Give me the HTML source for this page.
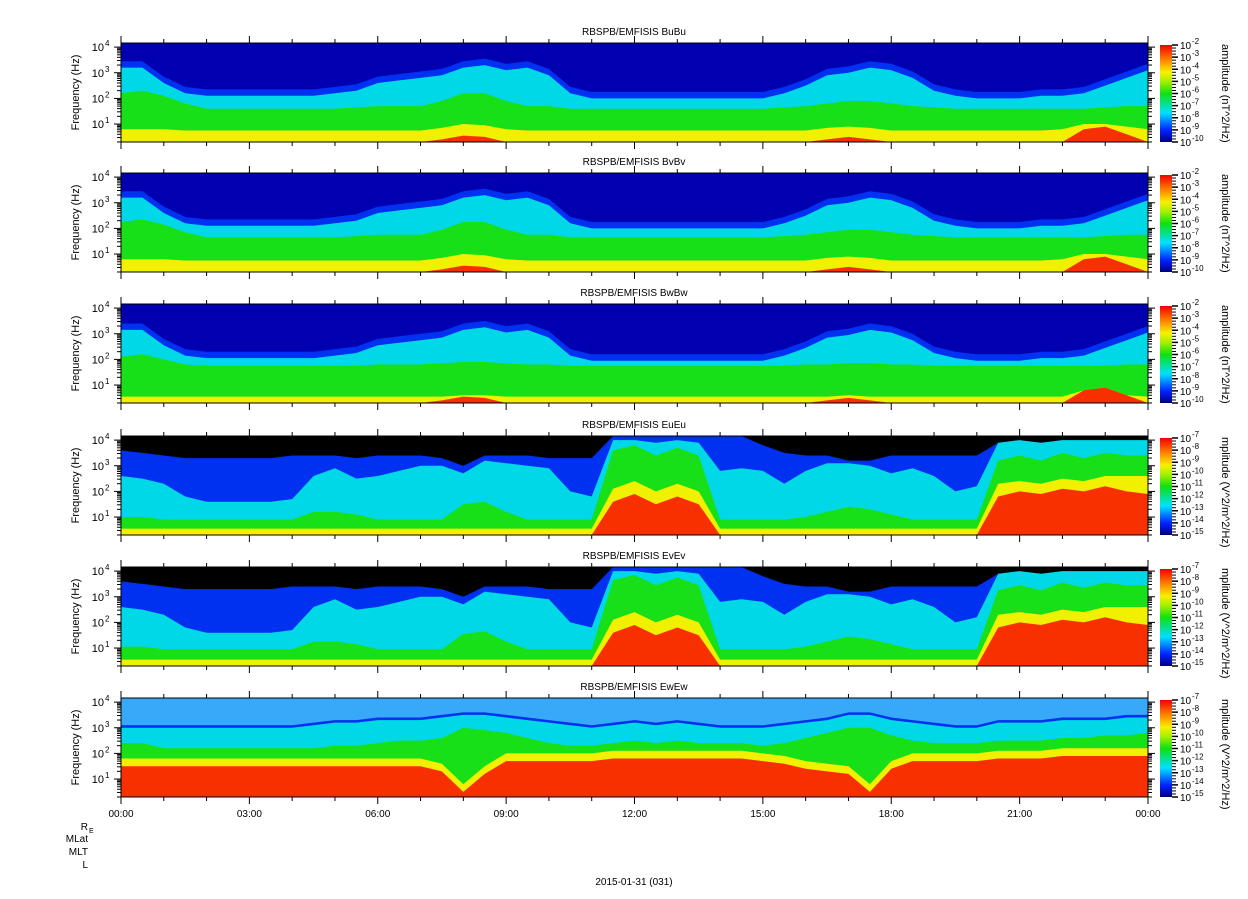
<!DOCTYPE html>
<html><head><meta charset="utf-8">
<style>
html,body{margin:0;padding:0;background:#fff;}
svg{display:block;font-family:"Liberation Sans","DejaVu Sans",sans-serif;}
</style></head>
<body>
<svg id="chart" width="1248" height="899" viewBox="0 0 1248 899" xmlns="http://www.w3.org/2000/svg">
<defs>
<linearGradient id="cbar" x1="0" y1="1" x2="0" y2="0">
<stop offset="0" stop-color="#000080"/><stop offset="0.12" stop-color="#0020ff"/>
<stop offset="0.3" stop-color="#00e0ff"/><stop offset="0.5" stop-color="#10e010"/>
<stop offset="0.62" stop-color="#a0f000"/><stop offset="0.72" stop-color="#f8f000"/>
<stop offset="0.85" stop-color="#ff8000"/><stop offset="1" stop-color="#f00000"/>
</linearGradient>
</defs>
</svg>
<script>
// hours sampled every 0.5 h (49 samples); values are log10(frequency in Hz) of layer tops
const hours = Array.from({length:49},(_,i)=>i*0.5);
const buRedLog   =[0.3,0.3,0.3,0.3,0.3,0.3,0.3,0.3,0.3,0.3,0.3,0.3,0.3,0.3,0.3,0.4,0.55,0.5,0.3,0.3,0.3,0.3,0.3,0.3,0.3,0.3,0.3,0.3,0.3,0.3,0.3,0.3,0.3,0.4,0.5,0.4,0.3,0.3,0.3,0.3,0.3,0.3,0.3,0.3,0.3,0.8,0.9,0.6,0.3];
const buYellowLog=[0.8,0.8,0.8,0.75,0.75,0.75,0.75,0.75,0.75,0.75,0.75,0.75,0.75,0.75,0.75,0.85,1.0,0.95,0.8,0.75,0.75,0.75,0.75,0.75,0.75,0.75,0.75,0.75,0.75,0.75,0.75,0.75,0.75,0.85,0.9,0.85,0.75,0.75,0.75,0.75,0.75,0.75,0.75,0.75,0.8,1.0,1.0,0.9,0.8];
const buGreenLog =[2.2,2.3,2.1,1.8,1.6,1.6,1.6,1.6,1.6,1.6,1.6,1.65,1.7,1.7,1.7,1.9,2.2,2.2,1.9,1.7,1.7,1.6,1.6,1.6,1.6,1.6,1.6,1.6,1.6,1.6,1.6,1.65,1.7,1.8,1.9,1.9,1.8,1.7,1.65,1.6,1.6,1.6,1.6,1.6,1.6,1.6,1.65,1.7,1.7];
const buCyanLog  =[3.2,3.2,2.6,2.2,2.1,2.1,2.1,2.1,2.1,2.1,2.2,2.3,2.6,2.7,2.8,2.9,3.2,3.3,3.1,3.2,2.9,2.2,2.0,2.0,2.0,2.0,2.0,2.0,2.0,2.0,2.0,2.2,2.5,2.9,3.0,3.2,3.1,2.8,2.3,2.1,2.0,2.0,2.0,2.1,2.1,2.2,2.5,2.8,3.1];
const bwGreenLog =[2.1,2.2,2.0,1.8,1.75,1.75,1.75,1.75,1.75,1.75,1.75,1.75,1.8,1.8,1.8,1.85,1.9,1.9,1.85,1.8,1.8,1.75,1.75,1.75,1.75,1.75,1.75,1.75,1.75,1.75,1.75,1.75,1.8,1.8,1.85,1.85,1.8,1.8,1.75,1.75,1.75,1.75,1.75,1.75,1.75,1.75,1.75,1.8,1.8];
const bwYellowLog=[0.55,0.55,0.55,0.55,0.55,0.55,0.55,0.55,0.55,0.55,0.55,0.55,0.55,0.55,0.55,0.55,0.6,0.6,0.55,0.55,0.55,0.55,0.55,0.55,0.55,0.55,0.55,0.55,0.55,0.55,0.55,0.55,0.55,0.55,0.6,0.55,0.55,0.55,0.55,0.55,0.55,0.55,0.55,0.55,0.55,0.8,0.9,0.6,0.55];
const euRedLog   =[0.3,0.3,0.3,0.3,0.3,0.3,0.3,0.3,0.3,0.3,0.3,0.3,0.3,0.3,0.3,0.3,0.3,0.3,0.3,0.3,0.3,0.3,0.3,1.6,1.9,1.5,1.8,1.5,0.3,0.3,0.3,0.3,0.3,0.3,0.3,0.3,0.3,0.3,0.3,0.3,0.3,1.8,2.0,1.9,2.1,2.0,2.2,2.0,1.9];
const euYellowLog=[0.55,0.55,0.55,0.55,0.55,0.55,0.55,0.55,0.55,0.55,0.55,0.55,0.55,0.55,0.55,0.55,0.55,0.55,0.55,0.55,0.55,0.55,0.55,2.1,2.4,2.0,2.3,2.0,0.55,0.55,0.55,0.55,0.55,0.55,0.55,0.55,0.55,0.55,0.55,0.55,0.55,2.3,2.4,2.3,2.5,2.4,2.6,2.6,2.6];
const euGreenLog =[1.0,1.0,0.9,0.9,0.9,0.9,0.9,0.9,0.9,1.2,1.2,1.1,0.9,0.9,0.9,0.9,1.5,1.6,1.2,0.9,0.9,0.9,0.9,3.6,3.8,3.4,3.7,3.4,0.9,0.9,0.9,0.9,1.0,1.2,1.4,1.3,1.1,0.9,0.9,0.9,0.9,3.2,3.4,3.2,3.5,3.3,3.5,3.4,3.4];
const euCyanLog  =[2.6,2.5,2.3,1.8,1.6,1.6,1.6,1.6,1.7,2.6,2.9,2.5,2.6,2.8,3.0,3.0,2.7,3.2,3.1,3.0,2.9,2.0,1.8,4.0,4.0,3.9,4.0,3.9,2.8,2.9,2.8,2.3,2.8,3.1,3.1,3.0,2.7,2.9,2.6,2.0,2.2,3.9,4.0,3.9,4.0,4.0,4.0,4.0,4.0];
const euBlueLog  =[3.6,3.5,3.4,3.3,3.3,3.3,3.3,3.3,3.4,3.4,3.4,3.3,3.4,3.4,3.4,3.3,3.0,3.4,3.4,3.4,3.3,3.3,3.3,4.2,4.2,4.2,4.2,4.2,4.2,4.2,3.8,3.5,3.4,3.4,3.2,3.2,3.4,3.4,3.4,3.4,3.4,3.9,3.9,3.9,3.9,3.9,3.9,3.9,3.9];
const ewRedLog   =[1.5,1.5,1.5,1.5,1.5,1.5,1.5,1.5,1.5,1.5,1.5,1.5,1.5,1.5,1.5,1.3,0.5,1.2,1.7,1.7,1.7,1.7,1.7,1.8,1.8,1.8,1.8,1.8,1.8,1.8,1.7,1.6,1.4,1.3,1.2,0.5,1.4,1.7,1.7,1.7,1.7,1.8,1.8,1.8,1.9,1.9,1.9,1.9,1.9];
const ewGreenLog =[2.4,2.4,2.2,2.2,2.2,2.2,2.2,2.2,2.2,2.2,2.3,2.3,2.4,2.5,2.5,2.6,3.0,2.9,2.8,2.6,2.4,2.3,2.3,2.4,2.5,2.4,2.5,2.4,2.4,2.4,2.3,2.4,2.6,2.8,3.0,3.0,2.7,2.5,2.4,2.4,2.4,2.5,2.5,2.5,2.6,2.6,2.7,2.7,2.8];
const ewCyanLog  =[3.0,3.0,3.0,3.0,3.0,3.0,3.0,3.0,3.0,3.1,3.2,3.2,3.3,3.3,3.3,3.4,3.5,3.5,3.4,3.3,3.2,3.1,3.0,3.1,3.2,3.1,3.2,3.1,3.0,3.0,3.0,3.1,3.2,3.3,3.5,3.5,3.3,3.2,3.1,3.0,3.0,3.2,3.2,3.2,3.3,3.3,3.3,3.4,3.4];
const xTickLabels=["00:00","03:00","06:00","09:00","12:00","15:00","18:00","21:00","00:00"];
const bCbarLabels=["-2","-3","-4","-5","-6","-7","-8","-9","-10"];
const eCbarLabels=["-7","-8","-9","-10","-11","-12","-13","-14","-15"];

const svg=document.getElementById('chart');
const NS='http://www.w3.org/2000/svg';
const X0=121,X1=1148;
function xScale(h){return X0+(X1-X0)*h/24;}
function mk(tag,attrs,parent){const e=document.createElementNS(NS,tag);for(const k in attrs)e.setAttribute(k,attrs[k]);(parent||svg).appendChild(e);return e;}
const add=(a,d)=>a.map(v=>v+d);
const panels=[
 {top:43,title:'RBSPB/EMFISIS  BuBu',topCol:'#0000b0',blue:add(buCyanLog,0.25),cyan:buCyanLog,green:buGreenLog,yellow:buYellowLog,red:buRedLog,cb:bCbarLabels,unit:'amplitude (nT^2/Hz)'},
 {top:173,title:'RBSPB/EMFISIS  BvBv',topCol:'#0000b0',blue:add(buCyanLog,0.25),cyan:buCyanLog,green:add(buGreenLog,0.05),yellow:buYellowLog,red:buRedLog,cb:bCbarLabels,unit:'amplitude (nT^2/Hz)'},
 {top:304,title:'RBSPB/EMFISIS  BwBw',topCol:'#0000b0',blue:add(buCyanLog,0.2),cyan:add(buCyanLog,-0.05),green:bwGreenLog,yellow:bwYellowLog,red:buRedLog,cb:bCbarLabels,unit:'amplitude (nT^2/Hz)'},
 {top:436,title:'RBSPB/EMFISIS  EuEu',topCol:'#000000',blue:euBlueLog,cyan:euCyanLog,green:euGreenLog,yellow:euYellowLog,red:euRedLog,cb:eCbarLabels,unit:'mplitude (V^2/m^2/Hz)'},
 {top:567,title:'RBSPB/EMFISIS  EvEv',topCol:'#000000',blue:euBlueLog,cyan:euCyanLog,green:add(euGreenLog,0.05),yellow:euYellowLog,red:euRedLog,cb:eCbarLabels,unit:'mplitude (V^2/m^2/Hz)'},
 {top:698,title:'RBSPB/EMFISIS  EwEw',topCol:'#38a8f8',blue:add(ewCyanLog,0.1),cyan:ewCyanLog,green:ewGreenLog,yellow:add(ewRedLog,0.3),red:ewRedLog,cb:eCbarLabels,unit:'mplitude (V^2/m^2/Hz)'}
];
const H=99, LMIN=0.3, LMAX=4.16;
panels.forEach((p,pi)=>{
 const g=mk('g',{});
 
 
 const yS=l=>p.top+H-(Math.min(Math.max(l,LMIN),LMAX)-LMIN)/(LMAX-LMIN)*H;
 const bot=p.top+H;
 const t=mk('text',{x:634,y:p.top-8,'text-anchor':'middle','font-size':10},g);t.textContent=p.title;
 
 const cp=mk('clipPath',{id:'clip'+pi},g);mk('rect',{x:X0,y:p.top,width:X1-X0,height:H},cp);
 const pg=mk('g',{'clip-path':`url(#clip${pi})`},g);
 mk('rect',{x:X0,y:p.top,width:X1-X0,height:H,fill:p.topCol},pg);
 const layers=[['blue','#0030f0'],['cyan','#00d8e8'],['green','#18e018'],['yellow','#f0f000'],['red','#f83000']];
 layers.forEach(([k,c])=>{
  const arr=p[k];
  let pts=`${X0},${bot} `;
  hours.forEach((h,i)=>{pts+=`${xScale(h).toFixed(1)},${yS(arr[i]).toFixed(1)} `;});
  pts+=`${X1},${bot}`;
  const poly=mk('polygon',{points:pts,fill:c},pg);
  
  
 });
 mk('rect',{x:X0,y:p.top,width:X1-X0,height:H,fill:'none',stroke:'#000','stroke-width':1},g);
 for(let d=0;d<=4;d++){for(let m=1;m<10;m++){const l=d+Math.log10(m);if(l<LMIN||l>LMAX)continue;const y=yS(l);const len=m==1?7:4;
  mk('line',{x1:X0-len,x2:X0,y1:y,y2:y,stroke:'#000'},g);mk('line',{x1:X1,x2:X1+len,y1:y,y2:y,stroke:'#000'},g);}
 }
 [1,2,3,4].forEach(d=>{const y=yS(d);const tt=mk('text',{x:104,y:y+4,'text-anchor':'end','font-size':11},g);tt.textContent='10';
  const s=mk('text',{x:105,y:y-1,'font-size':8},g);s.textContent=String(d);});
 const yl=mk('text',{transform:`translate(79,${p.top+H/2}) rotate(-90)`,'text-anchor':'middle','font-size':11},g);yl.textContent='Frequency (Hz)';
 
 for(let h=0;h<=24;h++){const x=xScale(h);const len=h%3==0?7:4;
  mk('line',{x1:x,x2:x,y1:bot,y2:bot+len,stroke:'#000'},g);mk('line',{x1:x,x2:x,y1:p.top,y2:p.top-len,stroke:'#000'},g);}
 const cbTop=p.top+2, cbH=H-2;
 const cb=mk('rect',{x:1160,y:cbTop,width:12,height:cbH,fill:'url(#cbar)'},g);
 
 p.cb.forEach((lab,i)=>{const y=cbTop+i*cbH/8;
  mk('line',{x1:1172,x2:1178,y1:y,y2:y,stroke:'#000','stroke-width':1.5},g);
  if(i<8)for(let m=1;m<4;m++)mk('line',{x1:1172,x2:1176,y1:y+m*cbH/32,y2:y+m*cbH/32,stroke:'#000'},g);
  const tt=mk('text',{x:1180,y:y+4,'font-size':10},g);tt.textContent='10';
  const s=mk('text',{x:1192,y:y-1,'font-size':8},g);s.textContent=lab;});
 const ul=mk('text',{transform:`translate(1222,${p.top+1}) rotate(90)`,'font-size':11},g);ul.textContent=p.unit;
 
 if(pi==5){xTickLabels.forEach((lab,i)=>{const tt=mk('text',{x:xScale(i*3),y:bot+20,'text-anchor':'middle','font-size':10},g);tt.textContent=lab;
  });}
});
[['R',826],['MLat',838],['MLT',851],['L',864]].forEach(([s,y])=>{const t=mk('text',{x:88,y:y+4,'text-anchor':'end','font-size':10});t.textContent=s;
 });
const sub=mk('text',{x:89,y:833,'font-size':7});sub.textContent='E';
const dt=mk('text',{x:634,y:885,'text-anchor':'middle','font-size':10});dt.textContent='2015-01-31 (031)';

</script>
</body></html>
